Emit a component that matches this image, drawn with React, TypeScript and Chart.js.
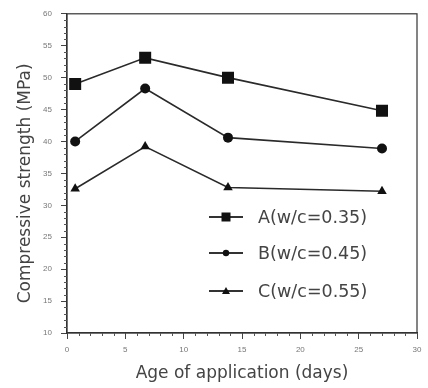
import React, { useEffect, useRef } from "react";
import { Chart, registerables } from "chart.js";

Chart.register(...registerables);

const ages = [0.7, 6.7, 13.8, 27];
const seriesA = [49, 53.1, 50, 44.8];
const seriesB = [40, 48.3, 40.6, 38.9];
const seriesC = [32.6, 39.2, 32.8, 32.2];
const seriesNames = ["A(w/c=0.35)", "B(w/c=0.45)", "C(w/c=0.55)"];
const xTickLabels = ["0", "5", "10", "15", "20", "25", "30"];
const yTickLabels = ["10", "15", "20", "25", "30", "35", "40", "45", "50", "55", "60"];
const yTitle = "Compressive strength (MPa)";
const xTitle = "Age of application (days)";

const FONT = "'Liberation Sans', Arial, sans-serif";
const TFONT = "'DejaVu Sans', sans-serif";

const framePlugin = {
  id: "frameAndMinor",
  afterDraw(chart: any) {
    const { ctx, chartArea } = chart;
    const xs = chart.scales.x;
    const ys = chart.scales.y;
    ctx.save();
    ctx.strokeStyle = "#333";
    ctx.lineWidth = 1.2;
    ctx.strokeRect(chartArea.left, chartArea.top, chartArea.right - chartArea.left, chartArea.bottom - chartArea.top);
    ctx.lineWidth = 1;
    ctx.strokeStyle = "#555";
    for (let v = 0; v <= 30; v++) {
      if (v % 5 === 0) continue;
      const px = Math.round(xs.getPixelForValue(v)) + 0.5;
      ctx.beginPath();
      ctx.moveTo(px, chartArea.bottom);
      ctx.lineTo(px, chartArea.bottom + 3);
      ctx.stroke();
    }
    for (let v = 10; v <= 60; v++) {
      if (v % 5 === 0) continue;
      const py = Math.round(ys.getPixelForValue(v)) + 0.5;
      ctx.beginPath();
      ctx.moveTo(chartArea.left, py);
      ctx.lineTo(chartArea.left - 3, py);
      ctx.stroke();
    }
    // y title
    ctx.save();
    ctx.translate(26, (chartArea.top + chartArea.bottom) / 2 + 10);
    ctx.rotate(-Math.PI / 2);
    ctx.fillStyle = "#444";
    ctx.font = `17px ${TFONT}`;
    ctx.textAlign = "center";
    ctx.textBaseline = "middle";
    ctx.fillText(yTitle, 0, 0);
    ctx.restore();
    // legend
    const rows = [217, 253, 291];
    chart.data.datasets.forEach((ds: any, i: number) => {
      const y = rows[i];
      ctx.strokeStyle = "#333";
      ctx.lineWidth = 1.8;
      ctx.beginPath();
      ctx.moveTo(209, y);
      ctx.lineTo(243, y);
      ctx.stroke();
      ctx.fillStyle = "#111";
      const cx = 226;
      ctx.beginPath();
      if (ds.pointStyle === "rect") {
        ctx.rect(cx - 4.5, y - 4.5, 9, 9);
      } else if (ds.pointStyle === "circle") {
        ctx.arc(cx, y, 3.2, 0, Math.PI * 2);
      } else {
        ctx.moveTo(cx, y - 4);
        ctx.lineTo(cx + 4, y + 3);
        ctx.lineTo(cx - 4, y + 3);
        ctx.closePath();
      }
      ctx.fill();
      ctx.fillStyle = "#444";
      ctx.font = `17.5px ${TFONT}`;
      ctx.textBaseline = "middle";
      ctx.textAlign = "left";
      ctx.fillText(ds.label, 258, y + 1);
    });
    ctx.restore();
  },
};

export default function App() {
  const ref = useRef<HTMLCanvasElement>(null);
  useEffect(() => {
    if (!ref.current) return;
    const mk = (label: string, data: number[], style: string, radius: number) => ({
      label,
      data: ages.map((a, i) => ({ x: a, y: data[i] })),
      borderColor: "#2a2a2a",
      backgroundColor: "#111",
      borderWidth: 1.6,
      pointStyle: style,
      pointRadius: radius,
      pointBackgroundColor: "#111",
      pointBorderColor: "#111",
      pointBorderWidth: 0,
      showLine: true,
    });
    const chart = new Chart(ref.current, {
      type: "scatter",
      data: {
        datasets: [
          mk(seriesNames[0], seriesA, "rect", 8.5),
          mk(seriesNames[1], seriesB, "circle", 5),
          mk(seriesNames[2], seriesC, "triangle", 5.5),
        ] as any,
      },
      options: {
        animation: false,
        responsive: false,
        maintainAspectRatio: false,
        layout: { padding: { top: 13, right: 11, left: 0, bottom: 0 } },
        plugins: { legend: { display: false }, tooltip: { enabled: false } },
        scales: {
          x: {
            type: "linear",
            min: 0,
            max: 30,
            afterFit: (s: any) => { s.height = 55; },
            afterBuildTicks: (s: any) => { s.ticks = xTickLabels.map((t) => ({ value: Number(t) })); },
            grid: { drawOnChartArea: false, tickLength: 6, color: "#444", tickColor: "#444" },
            border: { color: "#333", width: 1.2 },
            ticks: {
              font: { family: FONT, size: 8 },
              color: "#777",
              padding: 6,
              maxRotation: 0,
              callback: (v: any) => String(v),
            },
            title: {
              display: true,
              text: xTitle,
              font: { family: TFONT, size: 17 },
              color: "#444",
              padding: { top: 0, bottom: 4 },
            },
          },
          y: {
            type: "linear",
            min: 10,
            max: 60,
            afterFit: (s: any) => { s.width = 67; },
            afterBuildTicks: (s: any) => { s.ticks = yTickLabels.map((t) => ({ value: Number(t) })); },
            grid: { drawOnChartArea: false, tickLength: 6, color: "#444", tickColor: "#444" },
            border: { color: "#333", width: 1.2 },
            ticks: {
              font: { family: FONT, size: 8 },
              color: "#777",
              padding: 9,
              callback: (v: any) => String(v),
            },
            title: { display: false },
          },
        },
      } as any,
      plugins: [framePlugin],
    });
    return () => chart.destroy();
  }, []);
  return (
    <div style={{ position: "fixed", left: 0, top: 0, width: 428, height: 388, background: "#fff" }}>
      <canvas ref={ref} width={428} height={388} style={{ width: 428, height: 388, display: "block" }} />
    </div>
  );
}
